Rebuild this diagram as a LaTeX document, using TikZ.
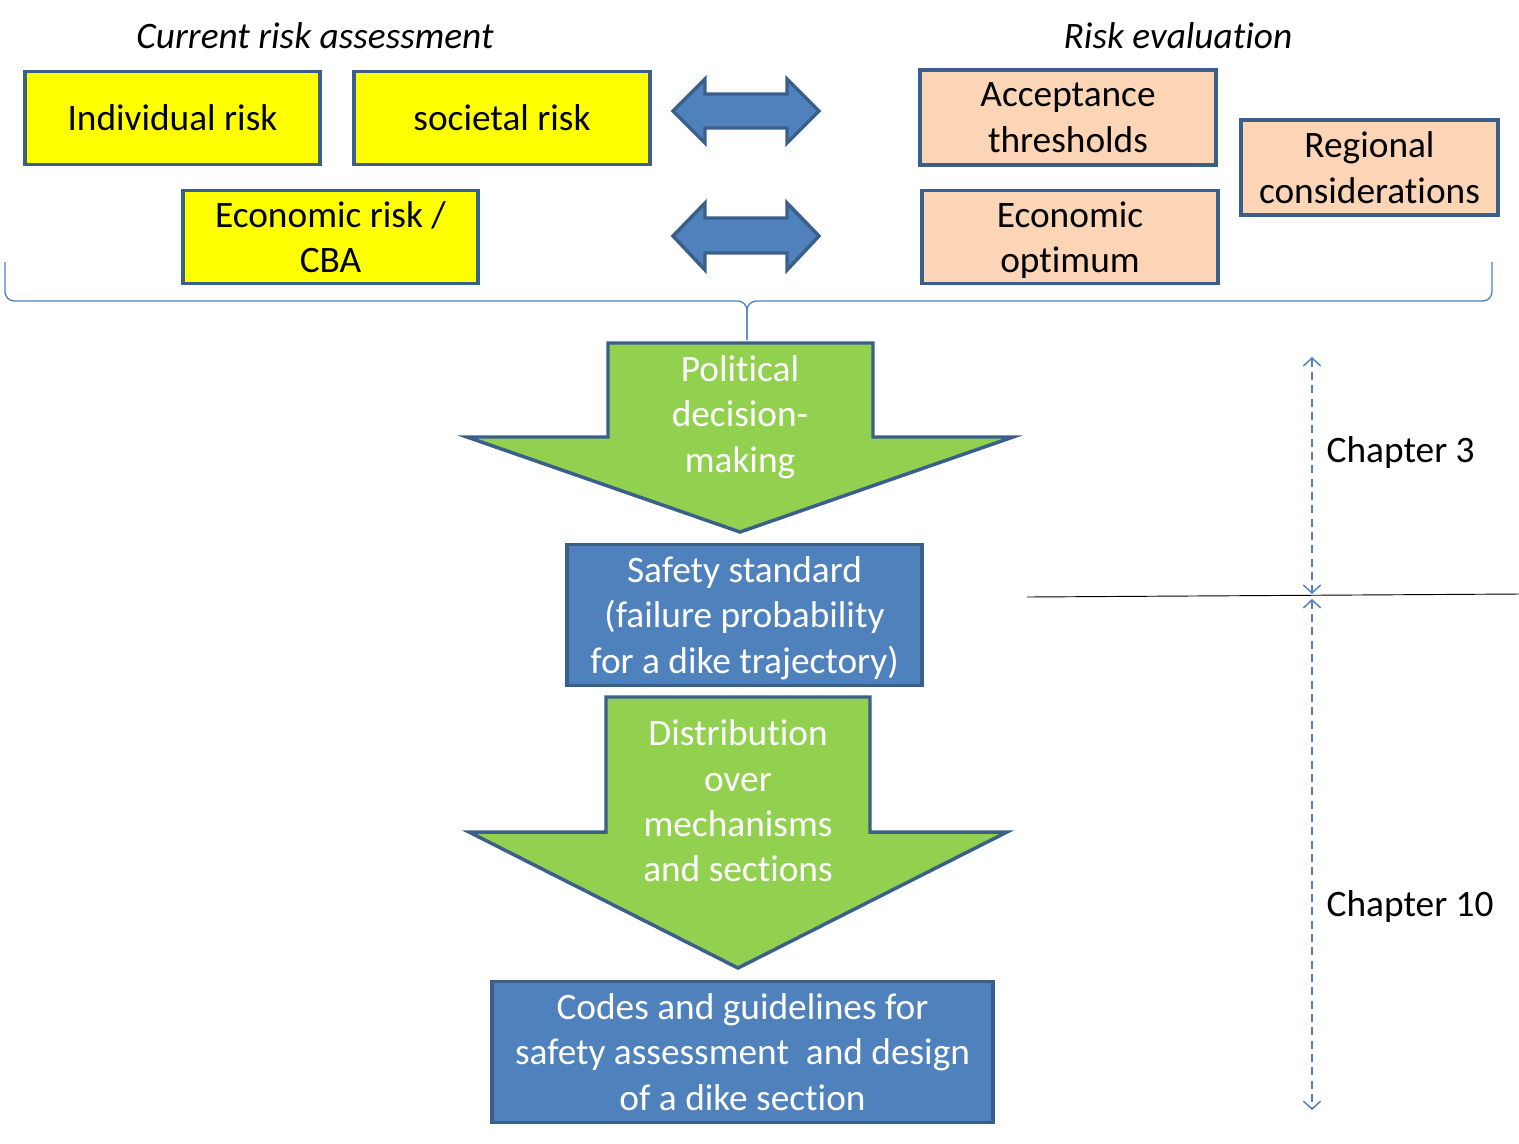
\documentclass[tikz,border=0pt]{standalone}
\usepackage{fontspec}
\setmainfont{Carlito}[Ligatures=NoCommon]
\usetikzlibrary{arrows.meta}
\definecolor{edgeblue}{HTML}{3A5F8B}
\definecolor{boxblue}{HTML}{4F81BD}
\definecolor{riskyellow}{HTML}{FFFF00}
\definecolor{peach}{HTML}{FBD5B5}
\definecolor{leafgreen}{HTML}{92D050}
\tikzset{
  every node/.style={font=\fontsize{28}{34}\selectfont},
  riskbox/.style={draw=edgeblue, line width=2.6pt, fill=riskyellow, align=center},
  evalbox/.style={draw=edgeblue, line width=2.6pt, fill=peach, align=center, text depth=0pt},
  stdbox/.style={draw=edgeblue, line width=2.6pt, fill=boxblue, text=white, align=center, text depth=0pt},
  bigarrow/.style={draw=edgeblue, line width=2.6pt, fill=leafgreen},
  linkarrow/.style={draw=edgeblue, line width=2.6pt, fill=boxblue},
  chapline/.style={boxblue, line width=1.1pt, dash pattern=on 6pt off 4pt, {Straight Barb[length=6pt,width=13pt]}-{Straight Barb[length=6pt,width=13pt]}}
}
\begin{document}
\begin{tikzpicture}[x=0.75pt,y=-0.75pt]
  \useasboundingbox (0,0) rectangle (1519,1143);
  % titles
  \node (current) at (315,36) {\itshape Current risk assessment};
  \node (evaluation) at (1178,36) {\itshape Risk evaluation};
  % risk measures
  \node[riskbox, minimum width=221pt, minimum height=70pt] (individual) at (172.5,118) {Individual risk};
  \node[riskbox, minimum width=222pt, minimum height=70pt] (societal) at (502,118) {societal risk};
  \node[riskbox, minimum width=221pt, minimum height=70pt] (economic) at (330.5,237) {Economic risk /\\CBA};
  % evaluation criteria
  \node[evalbox, text depth=-4pt, minimum width=222pt, minimum height=71pt] (acceptance) at (1068,117.5) {Acceptance\\thresholds};
  \node[evalbox, minimum width=222pt, minimum height=70pt] (optimum) at (1070,237) {Economic\\optimum};
  \node[evalbox, minimum width=193pt, minimum height=71pt] (regional) at (1369.5,167.5) {Regional\\considerations};
  % double arrows
  \draw[linkarrow] (673,111) -- (705,79) -- (705,94) -- (787,94) -- (787,79) -- (819,111)
    -- (787,143) -- (787,128) -- (705,128) -- (705,143) -- cycle;
  \draw[linkarrow] (673,236) -- (705,203) -- (705,218) -- (787,218) -- (787,203) -- (819,236)
    -- (787,270) -- (787,253) -- (705,253) -- (705,270) -- cycle;
  % brace
  \coordinate (bracetip) at (747,340);
  \draw[boxblue, line width=1pt, rounded corners=7pt] (5,262) |- (747,301) -- (bracetip);
  \draw[boxblue, line width=1pt, rounded corners=7pt] (1492,262) |- (747,301) -- (bracetip);
  % decision arrow
  \draw[bigarrow] (608,343) -- (873,343) -- (873,437) -- (1013,437) -- (740,532)
    -- (467,437) -- (608,437) -- cycle;
  \node[text=white, align=center] (political) at (740,417) {Political\\decision-\\making};
  \node[stdbox, minimum width=266pt, minimum height=106pt] (standard) at (744.5,615)
    {Safety standard\\(failure probability\\for a dike trajectory)};
  % distribution arrow
  \draw[bigarrow] (606,697) -- (870,697) -- (870,832) -- (1007,832) -- (738,968)
    -- (469,832) -- (606,832) -- cycle;
  \node[text=white, align=center] (distribution) at (738,801) {Distribution\\over\\mechanisms\\and sections};
  \node[stdbox, minimum width=376pt, minimum height=106pt] (codes) at (742.5,1052)
    {Codes and guidelines for\\safety assessment\ \ and design\\of a dike section};
  % chapters
  \coordinate (splitleft) at (1027,597);
  \coordinate (splitright) at (1519,594);
  \draw[black, line width=0.7pt] (splitleft) -- (splitright);
  \coordinate (ch3top) at (1312,357);
  \coordinate (ch3bot) at (1312,594);
  \coordinate (ch10top) at (1312,599);
  \coordinate (ch10bot) at (1312,1110);
  \draw[chapline] (ch3top) -- (ch3bot);
  \draw[chapline] (ch10top) -- (ch10bot);
  \node[anchor=west] (chapter3) at (1322,453) {Chapter 3};
  \node[anchor=west] (chapter10) at (1322,907) {Chapter 10};
\end{tikzpicture}
\end{document}
